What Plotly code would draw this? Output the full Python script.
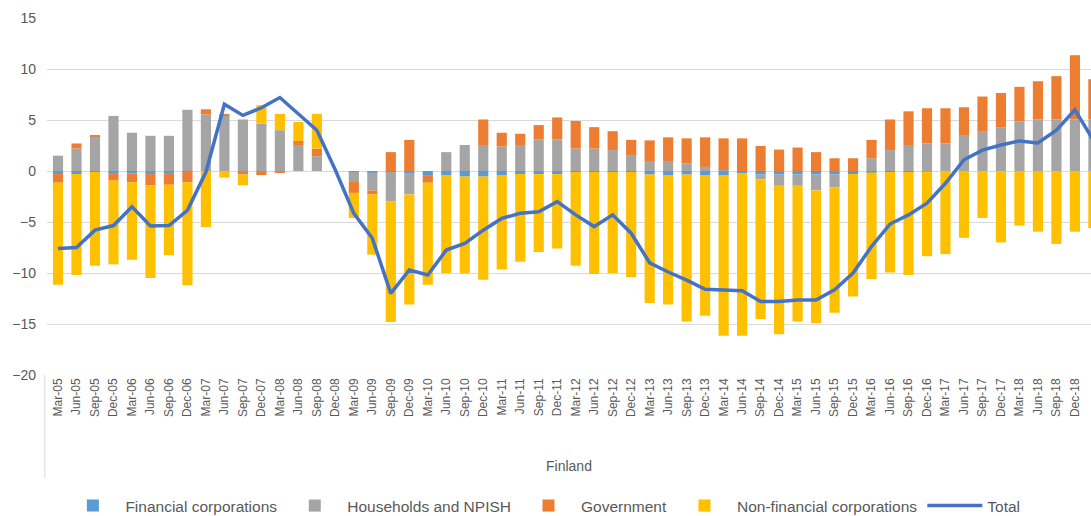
import plotly.graph_objects as go

quarters = []
for yr in range(5, 20):
    for m in ["Mar", "Jun", "Sep", "Dec"]:
        quarters.append(f"{m}-{yr:02d}")
quarters = quarters[:57]  # Mar-05 .. Mar-19

financial = [-0.3, -0.3, -0.1, -0.2, -0.25, -0.3, -0.2, -0.05, 0, 0,
             0, 0, 0, 0, 0, None, -0.1, -0.15, -0.1, -0.2,
             -0.4, -0.4, -0.55, -0.55, -0.45, -0.3, -0.3, -0.3, -0.1, -0.1,
             -0.1, -0.1, -0.35, -0.4, -0.35, -0.4, -0.45, -0.2, -0.35, -0.35,
             -0.35, -0.35, -0.35, -0.3, -0.15, -0.1, -0.1, -0.05, 0, 0,
             0, 0, 0, 0, 0, 0, 0]

households = [1.5, 2.2, 3.35, 5.4, 3.75, 3.45, 3.45, 6.0, 5.55, 5.45,
              5.05, 4.65, 4.0, 2.55, 1.45, None, -0.9, -1.75, -2.9, -2.1,
              0, 1.85, 2.55, 2.55, 2.4, 2.55, 3.1, 3.1, 2.2, 2.2,
              2.05, 1.5, 0.9, 0.9, 0.75, 0.4, 0.1, 0, -0.45, -1.1,
              -1.1, -1.55, -1.25, 0, 1.25, 2.05, 2.55, 2.7, 2.7, 3.45,
              3.85, 4.25, 4.85, 5.05, 5.05, 5.05, 5.05]

government = [-0.85, 0.5, 0.15, -0.75, -0.85, -1.1, -1.15, -1.05, 0.5, 0.15,
              -0.35, -0.4, -0.1, 0.4, 0.75, None, -1.15, -0.4, 1.85, 3.05,
              -0.75, 0, 0, 2.5, 1.35, 1.1, 1.4, 2.15, 2.7, 2.1,
              1.85, 1.55, 2.1, 2.4, 2.45, 2.9, 3.1, 3.2, 2.45, 2.1,
              2.3, 1.85, 1.25, 1.25, 1.8, 3.0, 3.3, 3.45, 3.45, 2.8,
              3.45, 3.4, 3.4, 3.75, 4.25, 6.3, 3.95]

non_financial = [-10.0, -9.9, -9.2, -8.2, -7.6, -9.1, -6.9, -10.1, -5.5, -0.65,
                 -1.05, 1.8, 1.6, 1.85, 3.4, None, -2.45, -5.9, -11.8, -10.8,
                 -10.0, -9.6, -9.5, -10.1, -9.2, -8.6, -7.65, -7.3, -9.2, -10.0,
                 -9.9, -10.3, -12.6, -12.7, -14.4, -13.8, -15.7, -15.95, -13.7, -14.55,
                 -13.3, -13.0, -12.3, -12.0, -10.45, -9.85, -10.1, -8.3, -8.15, -6.55,
                 -4.6, -7.0, -5.35, -5.95, -7.15, -5.95, -5.6]

total = [-7.6, -7.5, -5.8, -5.35, -3.5, -5.4, -5.35, -3.85, -0.1, 6.55,
         5.45, 6.2, 7.2, 5.6, 4.0, 0.1, -4.15, -6.6, -12.0, -9.7,
         -10.2, -7.75, -7.1, -5.8, -4.65, -4.15, -4.0, -3.0, -4.3, -5.45,
         -4.3, -6.1, -9.0, -9.9, -10.7, -11.6, -11.65, -11.75, -12.8, -12.8,
         -12.65, -12.65, -11.65, -10.0, -7.4, -5.2, -4.3, -3.15, -1.2, 1.1,
         2.05, 2.55, 2.95, 2.75, 4.0, 6.0, 3.0]

y_ticks = [15, 10, 5, 0, -5, -10, -15, -20]
group_label = "Finland"

FONT = "Liberation Sans, Arial, sans-serif"
TXT = "#595959"
GRID = "#D9D9D9"

fig = go.Figure()
series = [
    ("Financial corporations", financial, "#5B9BD5"),
    ("Households and NPISH", households, "#A5A5A5"),
    ("Government", government, "#ED7D31"),
    ("Non-financial corporations", non_financial, "#FFC000"),
]
for name, vals, col in series:
    fig.add_trace(go.Bar(x=quarters, y=vals, name=name, marker_color=col,
                         marker_line_width=0))
fig.add_trace(go.Scatter(x=quarters, y=total, name="Total", mode="lines",
                         line=dict(color="#4472C4", width=3.5)))

fig.update_layout(
    width=1091, height=516,
    margin=dict(l=47, r=0, t=18, b=141, autoexpand=False),
    paper_bgcolor="white", plot_bgcolor="white",
    barmode="relative", bargap=0.45,
    font=dict(family=FONT, color=TXT),
    showlegend=True,
    legend=dict(orientation="h", x=0.475, xanchor="center", y=-0.367, yanchor="middle",
                font=dict(size=15.5, color=TXT), traceorder="normal", itemwidth=55),
    xaxis=dict(type="category", range=[-0.595, 55.87], tickangle=-90,
               tickfont=dict(size=12, color=TXT), showgrid=False, automargin=False,
               showline=False, ticks="", fixedrange=True),
    yaxis=dict(range=[-20, 15], tickvals=y_ticks, showgrid=True, gridcolor=GRID,
               gridwidth=1, zeroline=True, zerolinecolor=GRID, zerolinewidth=1,
               tickfont=dict(size=14, color=TXT), ticklabelstandoff=10,
               automargin=False, showline=False, fixedrange=True),
    annotations=[dict(text=group_label, xref="paper", yref="paper", x=0.5, y=-0.255,
                      showarrow=False, font=dict(size=14, color=TXT),
                      xanchor="center", yanchor="middle")],
    shapes=[dict(type="line", xref="paper", yref="paper", x0=-0.002, x1=-0.002,
                 y0=0, y1=-0.289, line=dict(color=GRID, width=1))],
)

fig.write_html("out.html", config={"displayModeBar": False},
               post_script="document.body.style.margin='0';document.body.style.overflow='hidden';")
